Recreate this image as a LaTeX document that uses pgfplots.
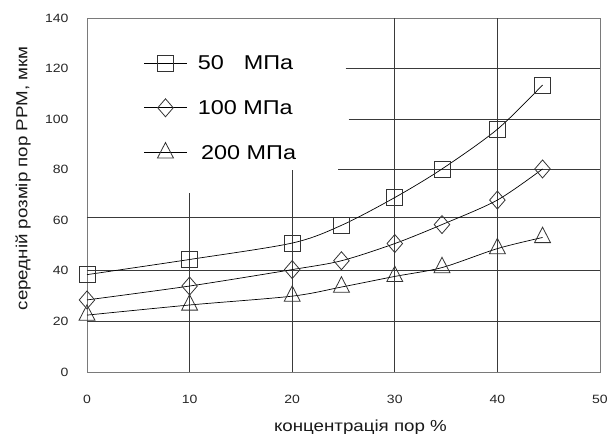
\documentclass[border=0pt]{standalone}
\usepackage{fontspec}
\setmainfont{Liberation Sans}[FakeStretch=1.17]
\usepackage{pgfplots}
\pgfplotsset{compat=1.18}
\definecolor{gridc}{HTML}{3A3A3A}
\definecolor{framec}{HTML}{7A7A7A}
\definecolor{markc}{HTML}{333333}
\pgfplotstableread{
x y
0 38.5
10 44.5
20 51
24.8 58
30 69
34.6 80.3
40 96
44.4 113.5
}\tabA
\pgfplotstableread{
x y
0 28.5
10 34
20 40.5
24.8 44
30 50.8
34.6 58.3
40 68
44.4 80.3
}\tabB
\pgfplotstableread{
x y
0 22.5
10 26.5
20 30
24.8 33.6
30 37.8
34.6 41.3
40 48.8
44.4 53.2
}\tabC
\begin{document}
\begin{tikzpicture}
\path[use as bounding box] (-87pt,-62pt) rectangle (524pt,372pt);
\begin{axis}[
  scale only axis, width=513pt, height=354pt,
  xmin=0, xmax=50, ymin=0, ymax=140,
  xtick={0,10,...,50}, ytick={0,20,...,140},
  major tick length=0pt,
  axis line style={draw=framec, line width=0.9pt},
  /pgf/number format/assume math mode=true,
  ticklabel style={font=\fontsize{12}{14}\selectfont, text=black!85},
  yticklabel style={anchor=east, xshift=-15pt},
  xticklabel style={anchor=north, yshift=-20pt},
  xlabel={концентрація пор \%},
  ylabel={середній розмір пор РРМ, мкм},
  label style={font=\fontsize{16}{18}\selectfont, text=black!90},
  xlabel style={at={(axis description cs:0.533,0)}, anchor=center, yshift=-55pt},
  ylabel style={at={(axis description cs:0,0.547)}, anchor=center, yshift=64pt},
  clip=false,
  legend cell align=left,
  legend style={draw=none, fill=none, at={(axis cs:5.55,126)}, anchor=north west,
    inner sep=0pt, row sep=25pt, font=\fontsize{20}{22}\selectfont,
    /tikz/every odd column/.append style={column sep=9pt}},
  legend image code/.code={\draw[mark repeat=2,mark phase=2,#1] plot coordinates {(0pt,0pt)(21pt,0pt)(42pt,0pt)};},
]
% grid lines (partial, as in original)
\draw[gridc, line width=0.9pt] (axis cs:0,20) -- (axis cs:50,20);
\draw[gridc, line width=0.9pt] (axis cs:0,40) -- (axis cs:50,40);
\draw[gridc, line width=0.9pt] (axis cs:0,61.2) -- (axis cs:50,61.2);
\draw[gridc, line width=0.9pt] (axis cs:24.5,80) -- (axis cs:50,80);
\draw[gridc, line width=0.9pt] (axis cs:25.5,100) -- (axis cs:50,100);
\draw[gridc, line width=0.9pt] (axis cs:25.2,120) -- (axis cs:50,120);
\draw[gridc, line width=0.9pt] (axis cs:10,0) -- (axis cs:10,70.8);
\draw[gridc, line width=0.9pt] (axis cs:20,0) -- (axis cs:20,80);
\draw[gridc, line width=0.9pt] (axis cs:30,0) -- (axis cs:30,140);
\draw[gridc, line width=0.9pt] (axis cs:40,0) -- (axis cs:40,140);
\addplot[black, line width=0.7pt, smooth, mark=square, mark size=8pt,
  mark options={draw=markc, line width=0.8pt, fill=none}] table[x=x,y=y] {\tabA};
\addlegendentry{50\hspace{20pt}МПа}
\addplot[black, line width=0.7pt, smooth, mark=diamond, mark size=9pt,
  mark options={draw=markc, line width=0.8pt, fill=none, xscale=1.15}] table[x=x,y=y] {\tabB};
\addlegendentry{100 МПа}
\addplot[black, line width=0.7pt, smooth, mark=triangle, mark size=9.2pt,
  mark options={draw=markc, line width=0.8pt, fill=none, yscale=1.12}] table[x=x,y=y] {\tabC};
\addlegendentry{\,200 МПа}
\end{axis}
\end{tikzpicture}
\end{document}
